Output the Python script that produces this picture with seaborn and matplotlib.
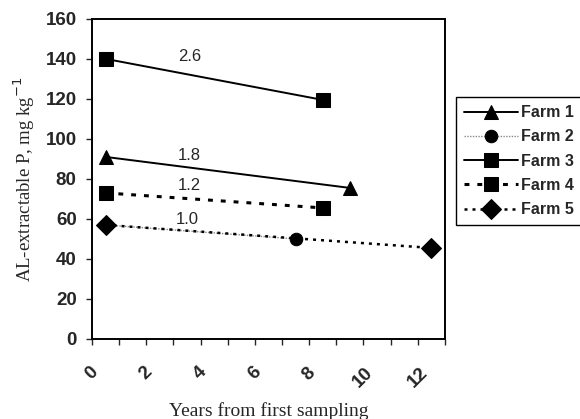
import pandas as pd
import numpy as np
import matplotlib
matplotlib.use('Agg')
import matplotlib.pyplot as plt
import seaborn as sns

# Data (years from first sampling, AL-extractable P)
farms = ['Farm 1', 'Farm 2', 'Farm 3', 'Farm 4', 'Farm 5']
years = {
    'Farm 1': [0.5, 9.5],
    'Farm 2': [0.5, 7.5],
    'Farm 3': [0.5, 8.5],
    'Farm 4': [0.5, 8.5],
    'Farm 5': [0.5, 12.5],
}
p_values = {
    'Farm 1': [91, 75.5],
    'Farm 2': [57, 50],
    'Farm 3': [140, 119.5],
    'Farm 4': [73, 65.5],
    'Farm 5': [57, 45.5],
}
# slope labels (mg kg-1 per year) and where they sit
slope_text = ['2.6', '1.8', '1.2', '1.0']
slope_x = [3.6, 3.6, 3.6, 3.5]
slope_y = [141, 91.5, 76.5, 59.5]

y_ticks = [0, 20, 40, 60, 80, 100, 120, 140, 160]
x_ticks = [0, 2, 4, 6, 8, 10, 12]

rows = []
for f in farms:
    for x, y in zip(years[f], p_values[f]):
        rows.append({'farm': f, 'years': x, 'P': y})
df = pd.DataFrame(rows)

sns.set_style('ticks')
plt.rcParams['font.family'] = ['Liberation Sans', 'DejaVu Sans']

styles = {
    'Farm 1': dict(marker='^', markersize=10, linestyle='-', color='black', linewidth=1.4),
    'Farm 2': dict(marker='o', markersize=9, linestyle=(0, (1, 1)), color='#888888', linewidth=1.0),
    'Farm 3': dict(marker='s', markersize=10, linestyle='-', color='black', linewidth=1.4),
    'Farm 4': dict(marker='s', markersize=10, linestyle=(0, (1.6, 2.6)), color='black', linewidth=2.2),
    'Farm 5': dict(marker='D', markersize=10, linestyle=(0, (1.2, 2)), color='black', linewidth=1.8),
}

fig = plt.figure(figsize=(5.8, 4.19), dpi=100)
ax = fig.add_axes([0.1586, 0.191, 0.6084, 0.764])

for f in farms:
    st = styles[f]
    sns.lineplot(data=df[df['farm'] == f], x='years', y='P', ax=ax, label=f,
                 color=st['color'], marker=st['marker'], markersize=st['markersize'],
                 linestyle=st['linestyle'], linewidth=st['linewidth'],
                 markeredgecolor='black', markerfacecolor='black')

for t, x, y in zip(slope_text, slope_x, slope_y):
    ax.text(x, y, t, fontsize=12, ha='center', va='center')

ax.set_xlim(0, 13)
ax.set_ylim(0, 160)
ax.set_yticks(y_ticks, labels=[str(v) for v in y_ticks], fontweight='bold', fontsize=13.5)
ax.set_xticks(x_ticks, labels=[str(v) for v in x_ticks], fontweight='bold', fontsize=13.5,
              rotation=45, ha='center', va='top')
ax.set_xticks(np.arange(0, 14, 1), minor=True)
ax.tick_params(axis='y', direction='out', length=4, width=1, pad=7)
ax.tick_params(axis='x', which='both', direction='out', length=4, width=1, pad=14)
for s in ax.spines.values():
    s.set_visible(True)
    s.set_linewidth(1.4)
    s.set_color('black')

ax.set_xlabel('Years from first sampling', fontsize=14, family='Liberation Serif', labelpad=8)
ax.set_ylabel('AL-extractable P, mg kg$^{-1}$', fontsize=13.5, family='Liberation Serif', labelpad=6)

leg = ax.legend(loc='upper left', bbox_to_anchor=(0.786, 0.768), bbox_transform=fig.transFigure,
                fancybox=False, frameon=True, edgecolor='black', framealpha=1,
                prop={'size': 11.5, 'weight': 'bold'}, handlelength=3.4, labelspacing=0.58,
                borderaxespad=0, handletextpad=0.15, borderpad=0.5)
leg.get_frame().set_linewidth(1.0)

fig.savefig('out.png', dpi=100)
